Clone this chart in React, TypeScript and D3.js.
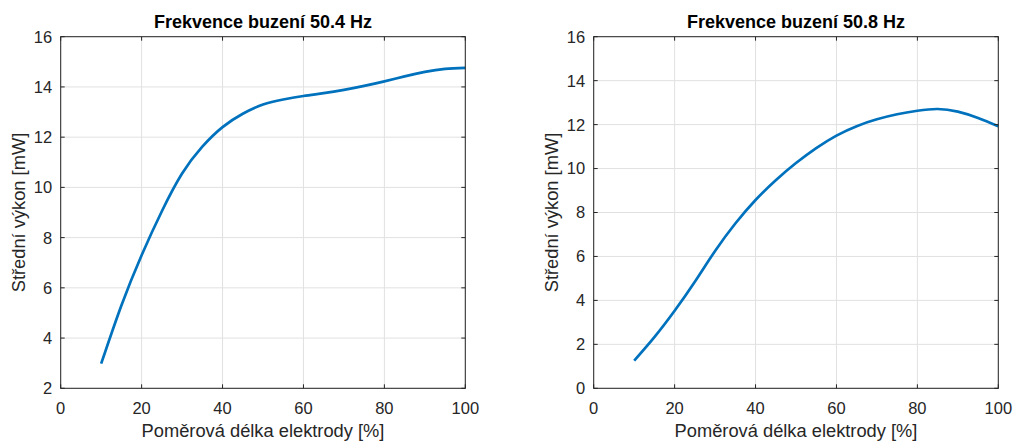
import React from "react";
import * as d3 from "d3";

const xValues = [10, 15, 20, 25, 30, 35, 40, 45, 50, 55, 60, 65, 70, 75, 80, 85, 90, 95, 100];
const power504 = [2.98, 5.3, 7.3, 9.05, 10.55, 11.62, 12.4, 12.93, 13.3, 13.5, 13.64, 13.75, 13.88, 14.04, 14.22, 14.42, 14.6, 14.72, 14.76];
const power508 = [1.26, 2.33, 3.53, 4.85, 6.25, 7.5, 8.57, 9.47, 10.25, 10.93, 11.5, 11.93, 12.24, 12.47, 12.63, 12.71, 12.59, 12.3, 11.92];
const xTicks = [0, 20, 40, 60, 80, 100];
const yTicksLeft = [2, 4, 6, 8, 10, 12, 14, 16];
const yTicksRight = [0, 2, 4, 6, 8, 10, 12, 14, 16];
const titles = ["Frekvence buzení 50.4 Hz", "Frekvence buzení 50.8 Hz"];
const xLabel = "Poměrová délka elektrody [%]";
const yLabel = "Střední výkon [mW]";

const FONT = "'Liberation Sans', Arial, Helvetica, sans-serif";
const AX = "#262626";

function Panel({ left, right, top, bottom, yDomain, yTicks, data, title }: any) {
  const x = d3.scaleLinear().domain([0, 100]).range([left, right]);
  const y = d3.scaleLinear().domain(yDomain).range([bottom, top]);
  const line = d3
    .line<number>()
    .x((_, i) => x(xValues[i]))
    .y((d) => y(d))
    .curve(d3.curveNatural);
  const tl = 4;
  return (
    <g>
      {xTicks.map((t) => (
        <line key={"gx" + t} x1={x(t)} x2={x(t)} y1={top} y2={bottom} stroke="#e1e1e1" strokeWidth={1} />
      ))}
      {yTicks.map((t: number) => (
        <line key={"gy" + t} x1={left} x2={right} y1={y(t)} y2={y(t)} stroke="#e1e1e1" strokeWidth={1} />
      ))}
      <path d={line(data) || ""} fill="none" stroke="#0072BD" strokeWidth={2.7} />
      <rect x={left} y={top} width={right - left} height={bottom - top} fill="none" stroke={AX} strokeWidth={1} />
      {xTicks.map((t) => (
        <g key={"tx" + t}>
          <line x1={x(t)} x2={x(t)} y1={bottom} y2={bottom - tl} stroke={AX} />
          <line x1={x(t)} x2={x(t)} y1={top} y2={top + tl} stroke={AX} />
          <text x={x(t)} y={bottom + 25.7} textAnchor="middle" fontSize={16.5} fill={AX} fontFamily={FONT}>
            {t}
          </text>
        </g>
      ))}
      {yTicks.map((t: number) => (
        <g key={"ty" + t}>
          <line x1={left} x2={left + tl} y1={y(t)} y2={y(t)} stroke={AX} />
          <line x1={right} x2={right - tl} y1={y(t)} y2={y(t)} stroke={AX} />
          <text x={left - 8.5} y={y(t)} dy="0.36em" textAnchor="end" fontSize={16.5} fill={AX} fontFamily={FONT}>
            {t}
          </text>
        </g>
      ))}
      <text x={(left + right) / 2} y={top - 8.4} textAnchor="middle" fontSize={18} fontWeight="bold" fill="#000" fontFamily={FONT}>
        {title}
      </text>
      <text x={(left + right) / 2} y={bottom + 49} textAnchor="middle" fontSize={18.3} fill={AX} fontFamily={FONT}>
        {xLabel}
      </text>
      <text
        transform={`translate(${left - 35.7},${(top + bottom) / 2}) rotate(-90)`}
        textAnchor="middle"
        fontSize={18.3}
        fill={AX}
        fontFamily={FONT}
      >
        {yLabel}
      </text>
    </g>
  );
}

export default function App() {
  return (
    <svg width={1016} height={444} style={{ position: "absolute", left: 0, top: 0, background: "#fff" }}>
      <rect width={1016} height={444} fill="#fff" />
      <Panel left={60.7} right={465.3} top={36.7} bottom={388.3} yDomain={[2, 16]} yTicks={yTicksLeft} data={power504} title={titles[0]} />
      <Panel left={593.7} right={998.3} top={36.7} bottom={388.3} yDomain={[0, 16]} yTicks={yTicksRight} data={power508} title={titles[1]} />
    </svg>
  );
}
